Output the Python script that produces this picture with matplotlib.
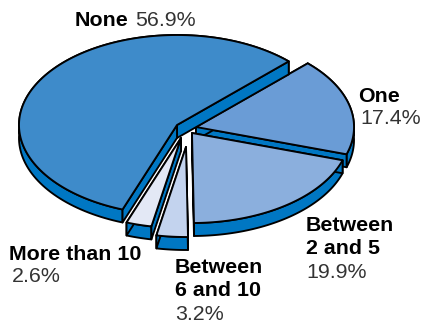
import matplotlib
matplotlib.use('Agg')
import matplotlib.pyplot as plt
import numpy as np
from matplotlib.patches import Polygon

plt.rcParams['font.family'] = ['Liberation Sans', 'DejaVu Sans']

categories = ['None', 'More than 10', 'Between\n6 and 10', 'Between\n2 and 5', 'One']
shares = [56.9, 2.6, 3.2, 19.9, 17.4]

# look of each slice, same order as categories
top_colors = ['#3e8bca', '#e3e8f5', '#c3d3ee', '#8bafdd', '#6a9cd6']
side_color = '#0077c3'
apex_x = [177, 181, 186, 192, 196]
apex_y = [125, 138, 147, 133, 127]
draw_order = [4, 0, 3, 2, 1]

rx = 158
ry = 90
depth = 13
start_angle = 45
line_w = 1.35


def arcPoints(cx, cy, a0, a1):
    t = np.radians(np.linspace(a0, a1, 120))
    return np.column_stack((cx + rx * np.cos(t), cy - ry * np.sin(t)))


def drawSlice(ax, cx, cy, a0, a1, color):
    arc = arcPoints(cx, cy, a0, a1)
    down = np.array([0, depth])
    apex = np.array([cx, cy])
    style = dict(facecolor=side_color, edgecolor='black', linewidth=line_w, joinstyle='round')
    # side walls first, the top face covers whatever is behind it
    ax.add_patch(Polygon(np.vstack((arc, arc[::-1] + down)), **style))
    for p in (arc[0], arc[-1]):
        ax.add_patch(Polygon([apex, p, p + down, apex + down], **style))
    top = np.vstack((apex, arc))
    ax.add_patch(Polygon(top, facecolor=color, edgecolor='black', linewidth=line_w, joinstyle='round'))


fig = plt.figure(figsize=(4.22, 3.26), dpi=100)
ax = fig.add_axes([0, 0, 1, 1])
ax.set_xlim(0, 422)
ax.set_ylim(326, 0)
ax.axis('off')

edges = start_angle + np.concatenate(([0], np.cumsum(shares))) * 3.6
for i in draw_order:
    drawSlice(ax, apex_x[i], apex_y[i], edges[i], edges[i + 1], top_colors[i])

# labels: name and percent placed separately
name_pos = [(75, 20), (9, 255), (175, 279), (306, 237), (358, 96)]
value_pos = [(135, 20), (12, 276), (175, 315), (306, 273), (360, 118)]
for i in range(len(categories)):
    ax.text(name_pos[i][0], name_pos[i][1], categories[i], fontsize=15.4, fontweight='bold',
            color='black', va='center', ha='left', linespacing=1.3)
    ax.text(value_pos[i][0], value_pos[i][1], '%.1f%%' % shares[i], fontsize=15.4,
            color='#333333', va='center', ha='left')

fig.savefig('out.png', dpi=100)
